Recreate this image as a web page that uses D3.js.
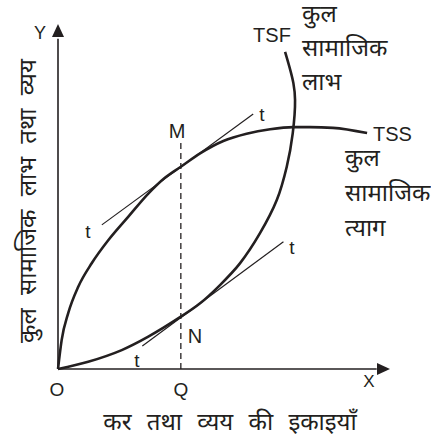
<!DOCTYPE html>
<html><head><meta charset="utf-8">
<script src="https://cdn.jsdelivr.net/npm/d3@7"></script>
<style>
html,body{margin:0;padding:0;background:#fff;}
text{font-family:"Liberation Sans",Arial,sans-serif;fill:#231f20;}
.hi{font-family:"Noto Sans Devanagari","Noto Sans","Lohit Devanagari",sans-serif;}
</style></head>
<body>
<svg id="c" width="431" height="439"></svg>
<script>
// Data (units: 0..100 on both axes)
const tssX = [0, 1.1, 3.1, 6.1, 10.2, 15.2, 21.2, 27.2, 32.2, 37.0, 42.8, 49.8, 56.8, 63.9, 70.9, 75.9, 82.8, 93.1];
const tssY = [0, 8.4, 16.3, 23.9, 30.8, 37.5, 44.3, 51.0, 55.6, 58.8, 62.7, 66.3, 68.4, 69.7, 70.3, 70.3, 70.1, 68.6];
const tsfX = [0, 9.1, 19.2, 27.2, 37.0, 42.8, 48.8, 54.8, 60.8, 65.9, 68.9, 70.7, 71.4, 70.9, 68.4];
const tsfY = [0, 2.1, 5.5, 9.4, 15.2, 19.1, 24.4, 30.7, 39.4, 49.1, 58.8, 68.5, 78.2, 83.1, 92.2];
const tangentM = [[13.2, 41.9], [58.8, 74.1]];
const tangentN = [[25.4, 6.7], [67.9, 37.0]];
const qX = 37.0, mTop = 65.7;
const yLabel = "कुल सामाजिक लाभ तथा व्यय";
const xLabel = "कर तथा व्यय की इकाइयाँ";
const tsfLabel = ["कुल", "सामाजिक", "लाभ"];
const tssLabel = ["कुल", "सामाजिक", "त्याग"];

const svg = d3.select("#c");
const x = d3.scaleLinear().domain([0, 100]).range([58, 390]);
const y = d3.scaleLinear().domain([0, 100]).range([369, 25]);
const ink = "#231f20";

// axes
svg.append("line").attr("x1", x(0)).attr("y1", y(0)).attr("x2", x(0)).attr("y2", y(96))
  .attr("stroke", ink).attr("stroke-width", 1.6);
svg.append("line").attr("x1", x(0)).attr("y1", y(0)).attr("x2", x(96)).attr("y2", y(0))
  .attr("stroke", ink).attr("stroke-width", 1.6);
svg.append("path").attr("d", `M${x(0)},${y(100)-1} L${x(0)-6},${y(100)+12} L${x(0)+6},${y(100)+12}Z`).attr("fill", ink);
svg.append("path").attr("d", `M${x(100)},${y(0)} L${x(100)-13},${y(0)-6} L${x(100)-13},${y(0)+6}Z`).attr("fill", ink);

// dashed Q line
svg.append("line").attr("x1", x(qX)).attr("x2", x(qX)).attr("y1", y(0)).attr("y2", y(mTop))
  .attr("stroke", ink).attr("stroke-width", 1.3).attr("stroke-dasharray", "6,4");

const lineTss = d3.line().x(d => x(d[0])).y(d => y(d[1])).curve(d3.curveMonotoneX);
const lineTsf = d3.line().x(d => x(d[0])).y(d => y(d[1])).curve(d3.curveCatmullRom.alpha(0.5));
svg.append("path").attr("d", lineTss(tssX.map((v, i) => [v, tssY[i]])))
  .attr("fill", "none").attr("stroke", ink).attr("stroke-width", 2.6);
svg.append("path").attr("d", lineTsf(tsfX.map((v, i) => [v, tsfY[i]])))
  .attr("fill", "none").attr("stroke", ink).attr("stroke-width", 2.6);

const straight = d3.line().x(d => x(d[0])).y(d => y(d[1]));
[tangentM, tangentN].forEach(t => svg.append("path").attr("d", straight(t))
  .attr("fill", "none").attr("stroke", ink).attr("stroke-width", 1.2));

function txt(px, py, s, size, anchor, cls) {
  return svg.append("text").attr("x", px).attr("y", py).attr("font-size", size)
    .attr("text-anchor", anchor || "middle").attr("class", cls || null).text(s);
}
txt(40, 39, "Y", 18);
txt(369, 387, "X", 17);
txt(57, 396, "O", 19);
txt(x(qX), 396, "Q", 19);
txt(177, 138, "M", 20);
txt(195, 343, "N", 20);
txt(88, 238, "t", 19);
txt(262, 121, "t", 19);
txt(137, 367, "t", 19);
txt(292, 254, "t", 19);
txt(272, 42, "TSF", 20);
txt(373, 141, "TSS", 20, "start");
tsfLabel.forEach((s, i) => txt(302, 22 + i * 34, s, 24, "start", "hi"));
tssLabel.forEach((s, i) => txt(345, 166 + i * 35, s, 24, "start", "hi"));
svg.append("text").attr("class", "hi").attr("font-size", 24).attr("text-anchor", "middle")
  .attr("word-spacing", 7)
  .attr("transform", "translate(36,201) rotate(-90)").text(yLabel);
txt(230, 430, xLabel, 24, "middle", "hi").attr("word-spacing", 9);
</script>
</body></html>
